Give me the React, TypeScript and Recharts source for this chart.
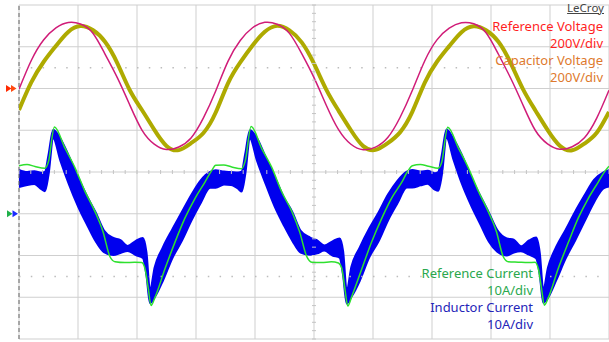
import React from 'react';
import { Area, CartesianGrid, ComposedChart, Line, ReferenceDot, ReferenceLine, XAxis, YAxis } from 'recharts';

// time in ms (5 ms/div), voltage in V (200 V/div), current in A (10 A/div)
const voltTime = [0, 1.04, 2.08, 3.13, 4.17, 5.21, 6.25, 7.29, 8.33, 9.38, 10.42, 11.46, 12.5, 13.54, 14.58, 15.63,
  16.67, 17.71, 18.75, 19.79, 20.83, 21.88, 22.92, 23.96, 25, 26.04, 27.08, 28.13, 29.17, 30.21, 31.25, 32.29,
  33.33, 34.38, 35.42, 36.46, 37.5, 38.54, 39.58, 40.63, 41.67, 42.71, 43.75, 44.79, 45.83, 46.88, 47.92, 48.96, 50];
const refVoltage = [-4, 134, 232, 290, 316, 309, 266, 165, 52, -78, -199, -266, -292, -280, -237, -141,
  -12, 130, 230, 291, 317, 308, 264, 167, 52, -80, -197, -267, -293, -281, -235, -139,
  -10, 132, 233, 289, 315, 310, 267, 164, 49, -79, -200, -265, -291, -279, -236, -142, -8];
const capVoltage = [-103, 29, 127, 204, 271, 299, 280, 224, 122, -7, -103, -197, -275, -295, -262, -213,
  -115, 25, 125, 206, 272, 300, 278, 221, 119, -5, -106, -200, -276, -294, -262, -210,
  -112, 27, 128, 203, 270, 298, 279, 224, 122, -3, -104, -198, -274, -296, -264, -212, -112];

const refCurTime = [0, 0.68, 1.36, 2.2, 2.5, 3.0, 3.9, 4.75, 5.6, 6.44, 7.12, 7.71, 8.14, 8.98, 9.8, 10.4, 10.68, 10.96, 11.19, 11.53, 12.37, 13.22, 14.07, 14.92, 15.76, 16.3,
  16.67, 17.35, 18.03, 18.87, 19.17, 19.67, 20.57, 21.42, 22.27, 23.11, 23.79, 24.38, 24.81, 25.65, 26.47, 27.07, 27.35, 27.63, 27.86, 28.2, 29.04, 29.89, 30.74, 31.59, 32.43, 32.97,
  33.33, 34.01, 34.69, 35.53, 35.83, 36.33, 37.23, 38.08, 38.93, 39.77, 40.45, 41.04, 41.47, 42.31, 43.13, 43.73, 44.01, 44.29, 44.52, 44.86, 45.7, 46.55, 47.4, 48.25, 49.09, 49.63, 50];
const refCurrent = [11.5, 11.8, 11.3, 10.9, 12.5, 20.8, 15.7, 11.0, 5.3, 0.5, -4.3, -10.3, -11.5, -11.7, -11.6, -11.7, -13.2, -18.0, -22.0, -20.0, -13.2, -6.8, -1.0, 3.7, 7.6, 10.2,
  11.6, 11.7, 11.2, 10.8, 12.6, 20.9, 15.6, 11.1, 5.2, 0.6, -4.4, -10.2, -11.6, -11.7, -11.5, -11.8, -13.0, -18.2, -22.1, -19.8, -13.3, -6.7, -1.1, 3.8, 7.5, 10.3,
  11.5, 11.8, 11.4, 10.9, 12.4, 20.7, 15.8, 11.0, 5.4, 0.5, -4.2, -10.3, -11.5, -11.6, -11.7, -11.6, -13.1, -18.1, -21.9, -20.1, -13.1, -6.9, -1.0, 3.7, 7.6, 10.1, 11.4];

const indTime = [0, 0.7, 1.3, 1.9, 2.2, 2.5, 2.9, 3.5, 4.2, 5.0, 5.8, 6.5, 7.2, 8.0, 8.6, 9.2, 9.9, 10.5, 10.8, 11.1, 11.5, 12.2, 13.0, 13.8, 14.6, 15.4, 16.2,
  16.67, 17.37, 17.97, 18.57, 18.87, 19.17, 19.57, 20.17, 20.87, 21.67, 22.47, 23.17, 23.87, 24.67, 25.27, 25.87, 26.57, 27.17, 27.47, 27.77, 28.17, 28.87, 29.67, 30.47, 31.27, 32.07, 32.87,
  33.33, 34.03, 34.63, 35.23, 35.53, 35.83, 36.23, 36.83, 37.53, 38.33, 39.13, 39.83, 40.53, 41.33, 41.93, 42.53, 43.23, 43.83, 44.13, 44.43, 44.83, 45.53, 46.33, 47.13, 47.93, 48.73, 49.53, 50];
const indHigh = [10.5, 10.0, 10.2, 9.8, 10.0, 14.1, 20.1, 18.0, 14.0, 8.8, 4.0, 0.3, -4.0, -5.8, -6.3, -7.7, -6.5, -5.8, -9.2, -18.3, -12.8, -8.0, -3.7, 0.4, 4.5, 8.0, 10.0,
  10.4, 10.1, 10.0, 9.9, 10.1, 14.3, 20.0, 18.1, 13.8, 8.9, 3.8, 0.4, -4.1, -5.7, -6.4, -7.6, -6.6, -5.9, -9.0, -18.4, -12.7, -8.1, -3.6, 0.3, 4.6, 7.9, 10.1,
  10.5, 10.1, 10.3, 9.7, 10.0, 14.0, 20.2, 17.9, 14.1, 8.7, 4.1, 0.2, -3.9, -5.9, -6.2, -7.8, -6.4, -5.7, -9.3, -18.2, -12.9, -7.9, -3.8, 0.5, 4.4, 8.1, 9.9, 10.4];
const indLow = [6.4, 6.9, 7.1, 5.9, 5.4, 9.3, 18.1, 12.8, 7.3, 1.8, -2.8, -6.6, -9.2, -9.9, -9.4, -8.9, -9.9, -10.6, -14.7, -21.4, -20.0, -16.0, -10.6, -6.5, -1.7, 2.6, 6.2,
  6.2, 7.0, 6.9, 6.0, 5.3, 9.4, 18.0, 12.7, 7.4, 1.7, -2.9, -6.5, -9.3, -9.8, -9.5, -8.8, -10.0, -10.5, -14.8, -21.5, -19.9, -16.1, -10.5, -6.6, -1.6, 2.5, 6.3,
  6.3, 6.8, 7.2, 5.8, 5.5, 9.2, 18.2, 12.9, 7.2, 1.9, -2.7, -6.7, -9.1, -10.0, -9.3, -9.0, -9.8, -10.7, -14.6, -21.3, -20.1, -15.9, -10.7, -6.4, -1.8, 2.7, 6.1, 6.5];

// divisions and minor ticks
const timeTicks = [0, 5, 10, 15, 20, 25, 30, 35, 40, 45, 50];
const voltTicks = [-1200, -1000, -800, -600, -400, -200, 0, 200, 400];
const minorTime = [0, 1, 2, 3, 4, 5, 6, 7, 8, 9, 10, 11, 12, 13, 14, 15, 16, 17, 18, 19, 20, 21, 22, 23, 24, 25,
  26, 27, 28, 29, 30, 31, 32, 33, 34, 35, 36, 37, 38, 39, 40, 41, 42, 43, 44, 45, 46, 47, 48, 49, 50];
const minorVolt = [-1200, -1160, -1120, -1080, -1040, -1000, -960, -920, -880, -840, -800, -760, -720, -680, -640,
  -600, -560, -520, -480, -440, -400, -360, -320, -280, -240, -200, -160, -120, -80, -40, 0, 40, 80, 120, 160,
  200, 240, 280, 320, 360, 400];
const centerTime = 25;
const centerVolt = -400;
const voltCursor = 100;
const currentCursor = -15;

const refVoltData = voltTime.map((t, i) => ({ t, v: refVoltage[i] }));
const capVoltData = voltTime.map((t, i) => ({ t, v: capVoltage[i] }));
const refCurData = refCurTime.map((t, i) => ({ t, a: refCurrent[i] }));
const indData = indTime.map((t, i) => ({ t, band: [indLow[i], indHigh[i]] }));

const HTick = (p: any) => <line x1={p.cx} x2={p.cx} y1={p.cy - 2} y2={p.cy + 2} stroke="#c4c4c4" strokeWidth={1} />;
const VTick = (p: any) => <line x1={p.cx - 2} x2={p.cx + 2} y1={p.cy} y2={p.cy} stroke="#c4c4c4" strokeWidth={1} />;

const VoltMarker = (p: any) => (
  <g>
    <polygon points={`${p.cx - 13},${p.cy - 3.5} ${p.cx - 7.5},${p.cy} ${p.cx - 13},${p.cy + 3.5}`} fill="#ff2a00" />
    <polygon points={`${p.cx - 8},${p.cy - 3.5} ${p.cx - 2.5},${p.cy} ${p.cx - 8},${p.cy + 3.5}`} fill="#ff4a10" />
  </g>
);
const CurMarker = (p: any) => (
  <g>
    <polygon points={`${p.cx - 12},${p.cy - 3.5} ${p.cx - 6.5},${p.cy} ${p.cx - 12},${p.cy + 3.5}`} fill="#1fb04a" />
    <polygon points={`${p.cx - 6.5},${p.cy - 3.5} ${p.cx - 1},${p.cy} ${p.cx - 6.5},${p.cy + 3.5}`} fill="#1a2aff" />
  </g>
);

const label = (text: string, color: string, top: number, right: number) => (
  <div style={{ position: 'absolute', top, right, color, fontSize: 13, lineHeight: '14px', whiteSpace: 'nowrap' }}>{text}</div>
);

export default function App() {
  return (
    <div style={{ position: 'absolute', left: 0, top: 0, width: 609, height: 342, background: '#fff', fontFamily: '"Noto Sans", sans-serif', overflow: 'hidden' }}>
      <ComposedChart width={609} height={342} margin={{ top: 5, right: 0, bottom: 3, left: 19 }}>
        <XAxis type="number" dataKey="t" domain={[0, 50]} ticks={timeTicks} hide allowDataOverflow />
        <YAxis yAxisId="v" type="number" domain={[-1200, 400]} ticks={voltTicks} hide allowDataOverflow />
        <YAxis yAxisId="i" type="number" domain={[-30, 50]} hide allowDataOverflow />
        <CartesianGrid yAxisId="v" stroke="#cfcfcf" strokeWidth={1} />

        {minorTime.map((t) => (
          <ReferenceDot key={'h' + t} yAxisId="v" x={t} y={centerVolt} ifOverflow="visible" shape={HTick} />
        ))}
        {minorVolt.map((v) => (
          <ReferenceDot key={'v' + v} yAxisId="v" x={centerTime} y={v} ifOverflow="visible" shape={VTick} />
        ))}
        <ReferenceLine yAxisId="v" y={voltCursor} stroke="#bcbcbc" strokeWidth={1.5} strokeDasharray="1.5 10.3" />
        <ReferenceLine yAxisId="i" y={currentCursor} stroke="#bcbcbc" strokeWidth={1.5} strokeDasharray="1.5 10.3" />
        <ReferenceLine yAxisId="v" x={0} stroke="#666" strokeWidth={1} strokeDasharray="4 3" />

        <Line yAxisId="v" data={capVoltData} dataKey="v" type="natural" stroke="#aeaa00" strokeWidth={4} dot={false} isAnimationActive={false} />
        <Line yAxisId="v" data={refVoltData} dataKey="v" type="natural" stroke="#d01c78" strokeWidth={1.5} dot={false} isAnimationActive={false} />
        <Area yAxisId="i" data={indData} dataKey="band" type="monotone" stroke="#0000ee" strokeWidth={2} fill="#0000ee" fillOpacity={1} isAnimationActive={false} />
        <Line yAxisId="i" data={refCurData} dataKey="a" type="monotone" stroke="#2ee02e" strokeWidth={1.5} dot={false} isAnimationActive={false} />

        <ReferenceDot yAxisId="v" x={0} y={0} ifOverflow="visible" shape={VoltMarker} />
        <ReferenceDot yAxisId="i" x={0} y={0} ifOverflow="visible" shape={CurMarker} />
      </ComposedChart>

      <div style={{ position: 'absolute', top: 2, right: 5, color: '#444', fontSize: 11.5, lineHeight: '12px', textDecoration: 'underline' }}>LeCroy</div>
      {label('Reference Voltage', '#ff1f1f', 19, 6)}
      {label('200V/div', '#ff1f1f', 36, 6)}
      {label('Capacitor Voltage', '#de7a2e', 53, 6)}
      {label('200V/div', '#de7a2e', 70, 6)}
      {label('Reference Current', '#2aa84e', 266, 76)}
      {label('10A/div', '#2aa84e', 283, 76)}
      {label('Inductor Current', '#2424b8', 300, 76)}
      {label('10A/div', '#2424b8', 317, 76)}
    </div>
  );
}
